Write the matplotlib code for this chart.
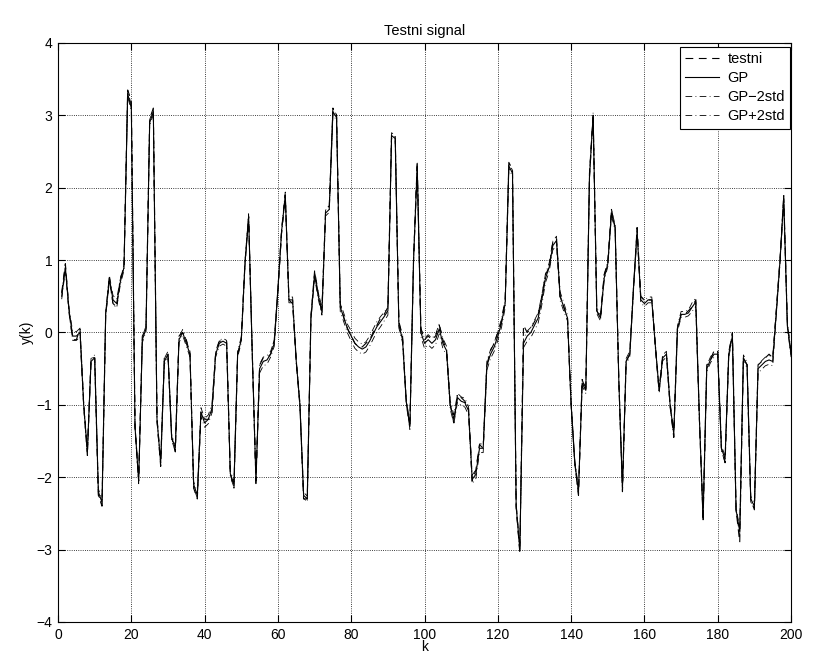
"""
Testni signal: GP prediction vs. test signal with +-2std band.
"""

import matplotlib
matplotlib.use("Agg")
import matplotlib.pyplot as plt
import numpy as np

plt.rcParams["font.family"] = ["Liberation Sans", "DejaVu Sans"]

k = list(range(1, 201))

# GP mean, 10 values per row
gp = [
    0.5, 0.9, 0.3, -0.05, -0.05, 0.0, -1.0, -1.65, -0.4, -0.35,
    -2.2, -2.35, 0.25, 0.75, 0.45, 0.4, 0.7, 0.9, 3.3, 3.1,
    -1.3, -2.05, -0.1, 0.05, 2.9, 3.05, -1.2, -1.8, -0.4, -0.3,
    -1.45, -1.6, -0.1, 0.0, -0.15, -0.3, -2.1, -2.25, -1.1, -1.25,
    -1.2, -1.05, -0.3, -0.15, -0.12, -0.15, -1.95, -2.1, -0.3, -0.1,
    0.95, 1.6, -0.3, -2.05, -0.5, -0.4, -0.38, -0.3, -0.15, 0.6,
    1.4, 1.9, 0.45, 0.45, -0.4, -1.0, -2.25, -2.3, 0.2, 0.8,
    0.5, 0.3, 1.65, 1.7, 3.05, 2.97, 0.35, 0.2, 0.05, -0.05,
    -0.15, -0.2, -0.23, -0.2, -0.12, -0.02, 0.08, 0.15, 0.22, 0.3,
    2.72, 2.68, 0.1, -0.1, -0.95, -1.3, 1.0, 2.3, 0.0, -0.15,
    -0.1, -0.15, -0.1, 0.05, -0.15, -0.25, -1.0, -1.2, -0.9, -0.95,
    -0.97, -1.08, -2.03, -1.96, -1.6, -1.6, -0.46, -0.3, -0.2, -0.05,
    0.13, 0.4, 2.3, 2.2, -2.4, -3.0, -0.15, -0.05, 0.0, 0.1,
    0.2, 0.45, 0.75, 0.9, 1.2, 1.27, 0.5, 0.35, 0.2, -1.0,
    -1.8, -2.2, -0.7, -0.8, 2.15, 3.0, 0.3, 0.2, 0.75, 0.95,
    1.65, 1.45, -0.65, -2.15, -0.4, -0.3, 0.6, 1.4, 0.45, 0.4,
    0.45, 0.45, -0.2, -0.8, -0.35, -0.3, -1.0, -1.4, 0.05, 0.25,
    0.25, 0.27, 0.35, 0.42, -1.2, -2.55, -0.5, -0.38, -0.3, -0.3,
    -1.6, -1.75, -0.3, -0.05, -2.45, -2.75, -0.35, -0.45, -2.3, -2.4,
    -0.5, -0.45, -0.4, -0.38, -0.4, 0.3, 1.0, 1.85, 0.1, -0.3,
]

# test signal (target), close to GP with small differences
testni = [
    0.55, 0.95, 0.3, -0.1, -0.1, 0.05, -1.0, -1.7, -0.35, -0.35,
    -2.25, -2.4, 0.25, 0.75, 0.4, 0.35, 0.75, 0.9, 3.35, 3.2,
    -1.3, -2.05, -0.05, 0.05, 2.95, 3.1, -1.2, -1.85, -0.35, -0.3,
    -1.45, -1.65, -0.05, 0.0, -0.1, -0.3, -2.15, -2.3, -1.1, -1.2,
    -1.2, -1.1, -0.3, -0.12, -0.12, -0.12, -1.95, -2.15, -0.3, -0.1,
    0.95, 1.6, -0.3, -2.05, -0.45, -0.35, -0.35, -0.3, -0.1, 0.6,
    1.4, 1.9, 0.45, 0.4, -0.4, -1.0, -2.3, -2.3, 0.2, 0.85,
    0.55, 0.25, 1.7, 1.75, 3.1, 3.0, 0.4, 0.2, 0.05, -0.05,
    -0.15, -0.2, -0.2, -0.15, -0.1, 0.0, 0.1, 0.2, 0.25, 0.35,
    2.75, 2.7, 0.15, -0.05, -0.95, -1.3, 1.0, 2.35, 0.05, -0.1,
    -0.05, -0.1, -0.05, 0.1, -0.1, -0.25, -1.0, -1.25, -0.85, -0.9,
    -0.95, -1.05, -2.05, -1.9, -1.55, -1.6, -0.45, -0.25, -0.15, 0.0,
    0.15, 0.45, 2.35, 2.25, -2.4, -3.05, 0.1, 0.0, 0.05, 0.15,
    0.25, 0.5, 0.8, 0.9, 1.25, 1.3, 0.5, 0.35, 0.2, -1.0,
    -1.8, -2.25, -0.65, -0.8, 2.2, 3.0, 0.3, 0.2, 0.8, 0.95,
    1.7, 1.45, -0.65, -2.2, -0.4, -0.3, 0.6, 1.45, 0.5, 0.45,
    0.45, 0.45, -0.2, -0.8, -0.3, -0.3, -1.0, -1.45, 0.05, 0.25,
    0.25, 0.3, 0.35, 0.45, -1.2, -2.6, -0.45, -0.38, -0.25, -0.25,
    -1.6, -1.8, -0.3, 0.0, -2.45, -2.9, -0.35, -0.45, -2.3, -2.45,
    -0.45, -0.4, -0.35, -0.3, -0.35, 0.3, 1.0, 1.9, 0.1, -0.3,
]

# GP standard deviation
std = [
    0.02, 0.02, 0.02, 0.03, 0.03, 0.03, 0.02, 0.02, 0.02, 0.02,
    0.02, 0.02, 0.02, 0.02, 0.03, 0.03, 0.02, 0.02, 0.02, 0.02,
    0.02, 0.02, 0.02, 0.02, 0.02, 0.02, 0.02, 0.02, 0.02, 0.02,
    0.02, 0.02, 0.02, 0.02, 0.02, 0.02, 0.02, 0.02, 0.03, 0.03,
    0.03, 0.03, 0.02, 0.02, 0.02, 0.02, 0.02, 0.02, 0.02, 0.02,
    0.02, 0.02, 0.02, 0.02, 0.03, 0.03, 0.03, 0.02, 0.02, 0.02,
    0.02, 0.02, 0.02, 0.02, 0.02, 0.02, 0.02, 0.02, 0.02, 0.02,
    0.02, 0.03, 0.02, 0.02, 0.02, 0.02, 0.03, 0.03, 0.03, 0.035,
    0.035, 0.035, 0.035, 0.035, 0.035, 0.035, 0.035, 0.035, 0.03, 0.03,
    0.02, 0.02, 0.02, 0.02, 0.02, 0.02, 0.02, 0.02, 0.03, 0.035,
    0.035, 0.035, 0.035, 0.035, 0.035, 0.03, 0.03, 0.03, 0.03, 0.03,
    0.03, 0.03, 0.03, 0.03, 0.03, 0.03, 0.03, 0.03, 0.03, 0.03,
    0.03, 0.03, 0.02, 0.02, 0.02, 0.02, 0.03, 0.035, 0.035, 0.035,
    0.035, 0.035, 0.03, 0.03, 0.03, 0.03, 0.03, 0.03, 0.02, 0.02,
    0.02, 0.02, 0.02, 0.02, 0.02, 0.02, 0.02, 0.02, 0.02, 0.02,
    0.02, 0.02, 0.02, 0.02, 0.02, 0.02, 0.02, 0.02, 0.02, 0.02,
    0.02, 0.02, 0.02, 0.02, 0.02, 0.02, 0.02, 0.02, 0.02, 0.02,
    0.02, 0.02, 0.03, 0.03, 0.02, 0.02, 0.02, 0.02, 0.02, 0.02,
    0.02, 0.02, 0.02, 0.02, 0.02, 0.02, 0.02, 0.02, 0.02, 0.02,
    0.03, 0.03, 0.03, 0.03, 0.03, 0.02, 0.02, 0.02, 0.02, 0.02,
]

x_ticks = list(range(0, 201, 20))
y_ticks = list(range(-4, 5))

gp_arr = np.array(gp)
std_arr = np.array(std)

fig = plt.figure(figsize=(8.14, 6.65), dpi=100)
ax = fig.add_axes([0.0713, 0.0647, 0.9005, 0.8707])

lw = 0.8
dash = (7, 5)
dashdot = (8, 4, 1, 4)
ax.plot(k, testni, "k", linestyle=(0, dash), linewidth=lw, label="testni")
ax.plot(k, gp, "k-", linewidth=lw, label="GP")
ax.plot(k, gp_arr - 2 * std_arr, "k", linestyle=(0, dashdot), linewidth=0.6,
        label="GP\u22122std")
ax.plot(k, gp_arr + 2 * std_arr, "k", linestyle=(0, dashdot), linewidth=0.6,
        label="GP+2std")

ax.set_xlim(0, 200)
ax.set_ylim(-4, 4)
ax.set_xticks(x_ticks)
ax.set_yticks(y_ticks)
ax.tick_params(direction="in", top=True, right=True, labelsize=10, length=5,
               width=0.8, pad=4)
ax.grid(True, linestyle=":", color="black", linewidth=0.6)
for s in ax.spines.values():
    s.set_linewidth(0.8)

ax.set_title("Testni signal", fontsize=10.5, pad=6)
ax.set_xlabel("k", fontsize=10, labelpad=-1)
ax.set_ylabel("y(k)", fontsize=10, labelpad=2)

leg = ax.legend(loc="upper right", bbox_to_anchor=(0.9986, 0.993), borderaxespad=0,
                fontsize=10.5, fancybox=False, framealpha=1, edgecolor="black",
                handlelength=2.3, handletextpad=0.6, labelspacing=0.35,
                borderpad=0.35)
leg.get_frame().set_linewidth(0.8)

plt.savefig("out.png", dpi=100)
